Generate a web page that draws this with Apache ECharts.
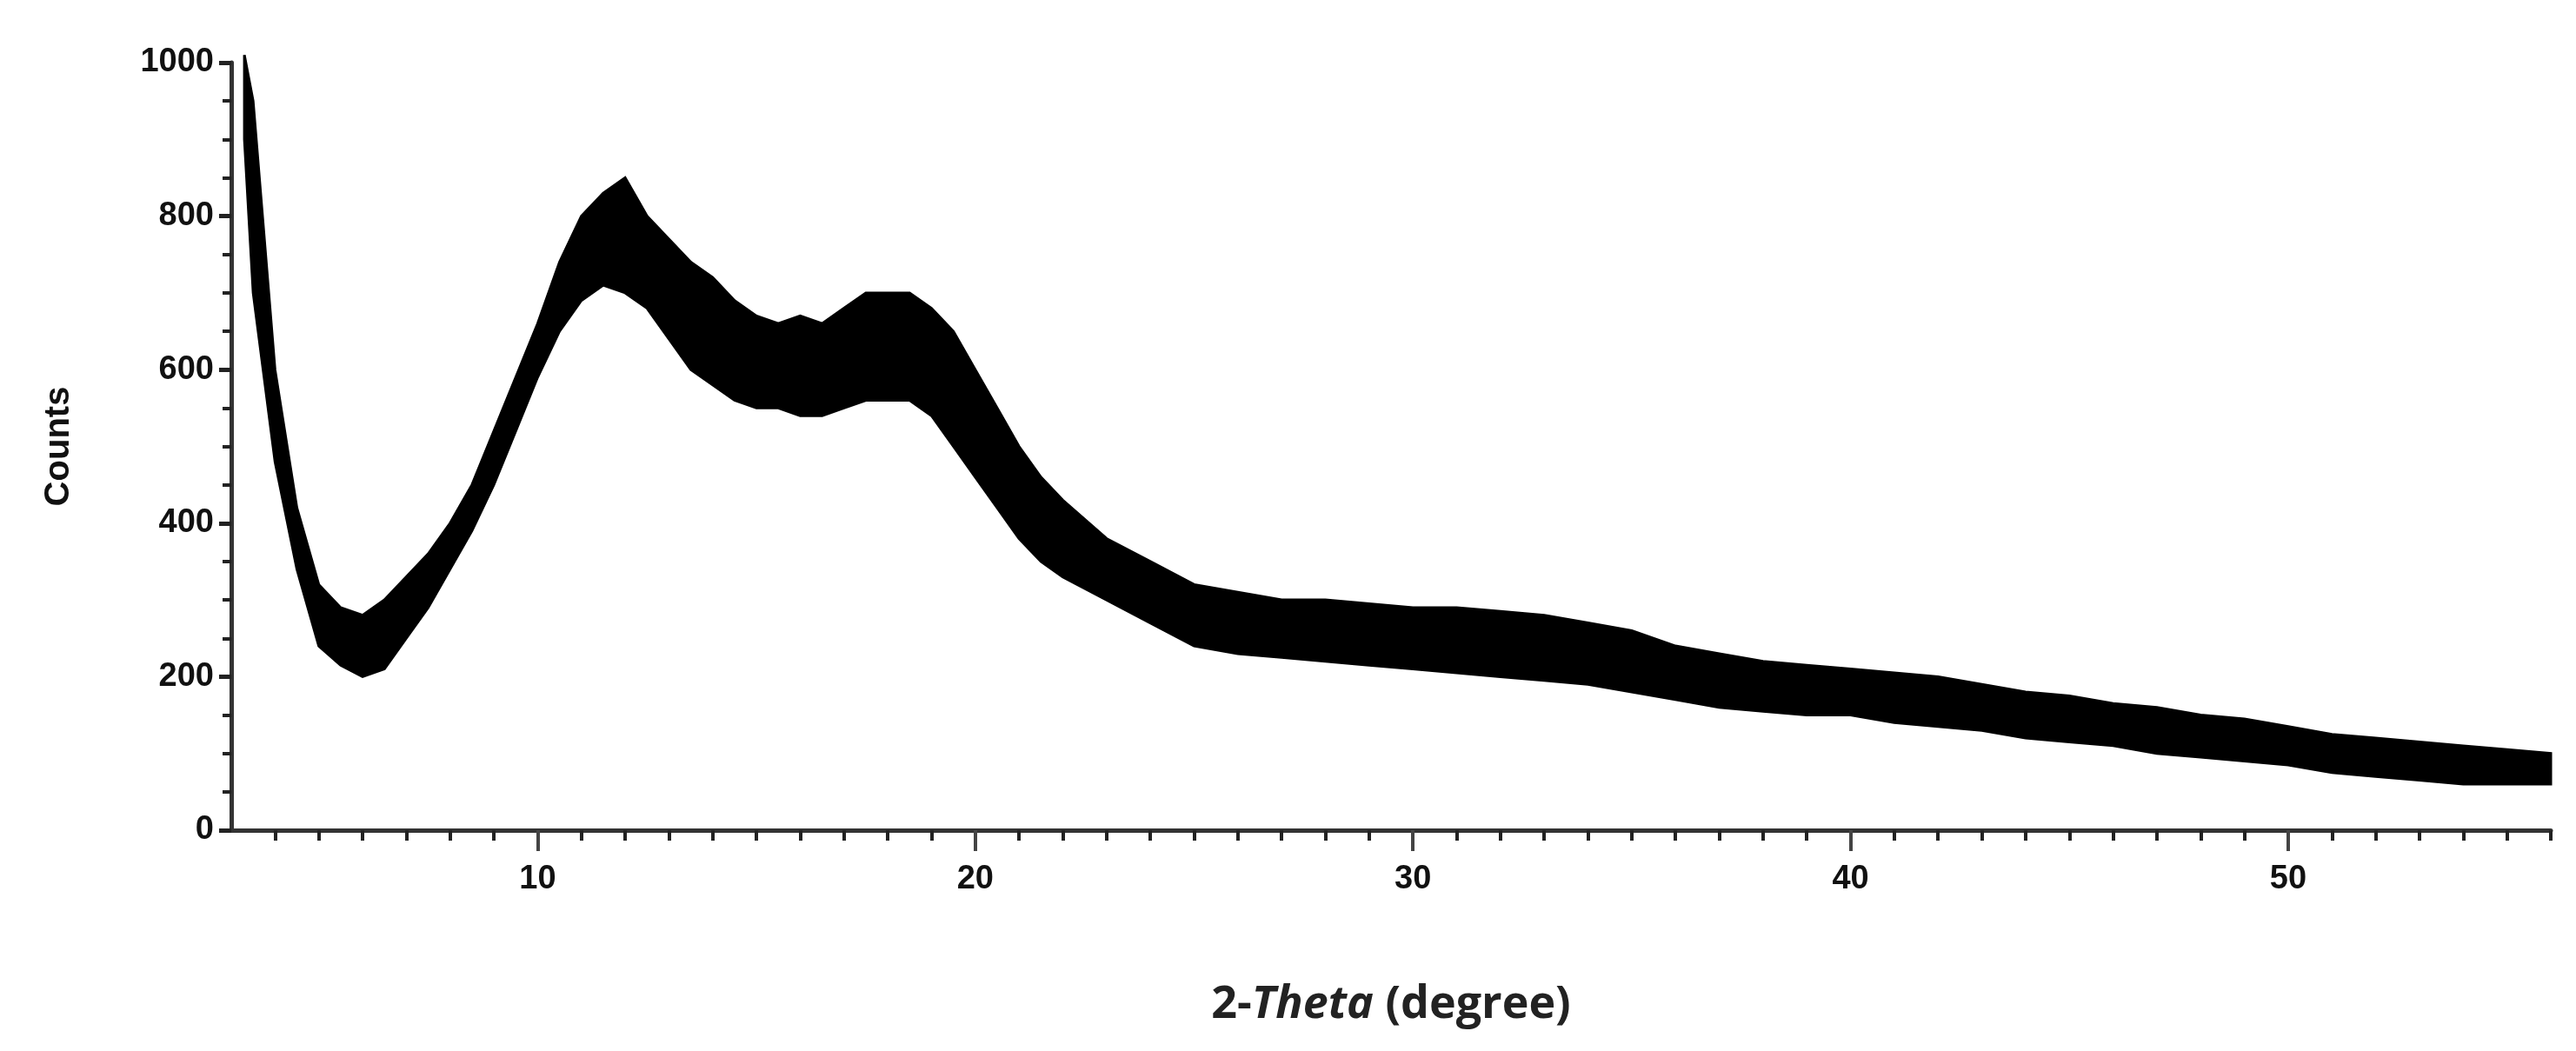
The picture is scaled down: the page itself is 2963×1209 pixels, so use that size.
<!DOCTYPE html>
<html><head><meta charset="utf-8">
<script src="https://cdn.jsdelivr.net/npm/echarts@6/dist/echarts.min.js"></script>
<style>html,body{margin:0;background:#fff}#c{width:2963px;height:1209px}</style>
</head><body><div id="c"></div>
<script>
const theta = [3.3,3.5,4,4.5,5,5.5,6,6.5,7,7.5,8,8.5,9,9.5,10,10.5,11,11.5,12,12.5,13,13.5,14,14.5,15,15.5,16,16.5,17,17.5,18,18.5,19,19.5,20,20.5,21,21.5,22,23,24,25,26,27,28,29,30,31,32,33,34,35,36,37,38,39,40,41,42,43,44,45,46,47,48,49,50,51,52,53,54,55,56];
const upper = [1010,950,600,420,320,290,280,300,330,360,400,450,520,590,660,740,800,830,850,800,770,740,720,690,670,660,670,660,680,700,700,700,680,650,600,550,500,460,430,380,350,320,310,300,300,295,290,290,285,280,270,260,240,230,220,215,210,205,200,190,180,175,165,160,150,145,135,125,120,115,110,105,100];
const lower = [900,700,480,340,240,215,200,210,250,290,340,390,450,520,590,650,690,710,700,680,640,600,580,560,550,550,540,540,550,560,560,560,540,500,460,420,380,350,330,300,270,240,230,225,220,215,210,205,200,195,190,180,170,160,155,150,150,140,135,130,120,115,110,100,95,90,85,75,70,65,60,60,60];
const xMajor = [10,20,30,40,50];
const xMinor = [];
for (let v = 4; v <= 56; v++) xMinor.push(v);

const bandRows = theta.map((t,i)=>[t,lower[i],upper[i]]);
const font = '"Liberation Sans", Arial, sans-serif';
const chart = echarts.init(document.getElementById('c'));
chart.setOption({
  animation:false,
  grid:{left:266,right:29,top:72,bottom:254},
  xAxis:[{
    type:'value',min:3,max:56,
    axisLine:{lineStyle:{color:'#333',width:5}},
    axisTick:{customValues:xMinor,length:12,lineStyle:{color:'#222',width:4}},
    axisLabel:{customValues:xMajor,fontSize:38,fontWeight:'bold',color:'#111',fontFamily:font,margin:38},
    splitLine:{show:false},
    name:'{a|2-}{b|Theta}{a| (degree)}',nameLocation:'middle',nameGap:175,
    nameTextStyle:{rich:{a:{fontSize:52,fontWeight:'bold',fontFamily:'"Open Sans", sans-serif',color:'#222'},b:{fontSize:52,fontWeight:'bold',fontStyle:'italic',fontFamily:'"Open Sans", sans-serif',color:'#222'}}}
  },{
    type:'value',min:3,max:56,position:'bottom',
    axisLine:{show:false},
    axisTick:{customValues:xMajor,length:24,lineStyle:{color:'#444',width:4}},
    axisLabel:{show:false},splitLine:{show:false}
  }],
  yAxis:{
    type:'value',min:0,max:1000,interval:200,
    axisLine:{show:true,lineStyle:{color:'#333',width:5}},
    axisTick:{show:true,length:14,lineStyle:{color:'#222',width:5}},
    minorTick:{show:true,splitNumber:4,length:10,lineStyle:{color:'#222',width:4}},
    axisLabel:{fontSize:38,fontWeight:'bold',color:'#111',fontFamily:font,margin:20,formatter:v=>String(v)},
    splitLine:{show:false},
    name:'Counts',nameLocation:'middle',nameGap:178,
    nameTextStyle:{fontSize:40,fontWeight:'bold',color:'#111',fontFamily:font}
  },
  series:[{
    type:'custom',data:bandRows,coordinateSystem:'cartesian2d',
    encode:{x:0,y:[1,2]},
    renderItem:function(params,api){
      if (params.dataIndexInside !== 0) return null;
      const pts=[];
      for (let i=0;i<bandRows.length;i++) pts.push(api.coord([bandRows[i][0],bandRows[i][2]]));
      for (let i=bandRows.length-1;i>=0;i--) pts.push(api.coord([bandRows[i][0],bandRows[i][1]]));
      return {type:'polygon',shape:{points:pts},style:{fill:'#000',stroke:'#000',lineWidth:3}};
    }
  }]
});
</script></body></html>
